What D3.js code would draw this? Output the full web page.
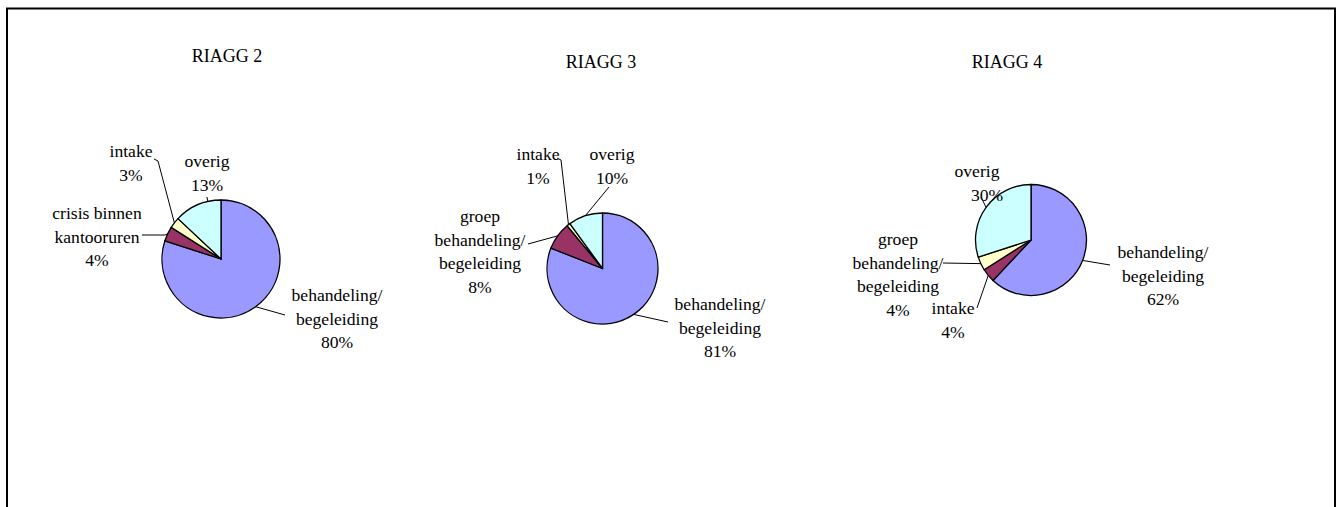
<!DOCTYPE html>
<html>
<head>
<meta charset="utf-8">
<script src="https://cdn.jsdelivr.net/npm/d3@7"></script>
<style>
  html, body { margin: 0; padding: 0; background: #fff; }
  svg { display: block; }
</style>
</head>
<body>
<svg id="chart" width="1340" height="507"></svg>
<script>
// Verdeling van de tijdsbesteding per RIAGG (percentages)
const titles = ["RIAGG 2", "RIAGG 3", "RIAGG 4"];

const riagg2Labels = [["behandeling/", "begeleiding"], ["crisis binnen", "kantooruren"], ["intake"], ["overig"]];
const riagg2Values = [80, 4, 3, 13];

const riagg3Labels = [["behandeling/", "begeleiding"], ["groep", "behandeling/", "begeleiding"], ["intake"], ["overig"]];
const riagg3Values = [81, 8, 1, 10];

const riagg4Labels = [["behandeling/", "begeleiding"], ["intake"], ["groep", "behandeling/", "begeleiding"], ["overig"]];
const riagg4Values = [62, 4, 4, 30];

const sliceColors = ["#9999FF", "#993366", "#FFFFCC", "#CCFFFF"];

// Layout of each pie: centre, radius, title position and label placement
// (label offsets relative to the centre; leader = bend points towards the label)
const layouts = [
  {
    cx: 221, cy: 259, r: 59, titleX: 227, titleY: 62,
    labels: [
      { dx: 116, dy: 36, leader: [[285, 315]] },
      { dx: -124, dy: -46, leader: [[142, 235], [165, 235]] },
      { dx: -90, dy: -108, leader: [[154, 159], [158, 161]] },
      { dx: -14, dy: -98, leader: [[207, 197]], edgeAngle: 347 }
    ]
  },
  {
    cx: 602.5, cy: 268.5, r: 55.5, titleX: 601, titleY: 68,
    labels: [
      { dx: 117.5, dy: 35.5, leader: [[668, 322]] },
      { dx: -122.5, dy: -52.5, leader: [[528, 244]] },
      { dx: -64.5, dy: -114.5, leader: [[557, 158], [561, 160]] },
      { dx: 9.5, dy: -114.5, leader: [[609, 187]] }
    ]
  },
  {
    cx: 1031, cy: 240, r: 55.5, titleX: 1007, titleY: 68,
    labels: [
      { dx: 132, dy: 12, leader: [[1110, 265]] },
      { dx: -78, dy: 68, leader: [[977, 308]] },
      { dx: -133, dy: -1, leader: [[943, 263]] },
      { dx: -54, dy: -69, leader: [[981, 197]], lineShift: [0, 10] }
    ]
  }
];

const datasets = [
  { labels: riagg2Labels, values: riagg2Values },
  { labels: riagg3Labels, values: riagg3Values },
  { labels: riagg4Labels, values: riagg4Values }
];

const serif = "'Liberation Serif', 'Times New Roman', serif";
const svg = d3.select("#chart");
const fontSize = 17.6;
const lineStep = 23.6;

// Outer frame of the chart area
svg.append("rect")
  .attr("x", 7).attr("y", 8.5)
  .attr("width", 1328).attr("height", 520)
  .attr("fill", "none").attr("stroke", "#000").attr("stroke-width", 2);

const pie = d3.pie().sort(null).value(d => d);

datasets.forEach((ds, i) => {
  const L = layouts[i];
  const g = svg.append("g");

  g.append("text")
    .attr("x", L.titleX).attr("y", L.titleY)
    .attr("text-anchor", "middle")
    .attr("font-family", serif)
    .attr("font-size", 18)
    .attr("fill", "#000")
    .text(titles[i]);

  const arcs = pie(ds.values);
  const arc = d3.arc().innerRadius(0).outerRadius(L.r);

  g.append("g")
    .attr("transform", `translate(${L.cx},${L.cy})`)
    .selectAll("path")
    .data(arcs)
    .join("path")
    .attr("d", arc)
    .attr("fill", (d, k) => sliceColors[k])
    .attr("stroke", "#000")
    .attr("stroke-width", 1.3)
    .attr("stroke-linejoin", "round");

  arcs.forEach((a, k) => {
    const lab = L.labels[k];
    const ang = lab.edgeAngle !== undefined ? lab.edgeAngle * Math.PI / 180 : (a.startAngle + a.endAngle) / 2;
    const edge = [L.cx + L.r * Math.sin(ang), L.cy - L.r * Math.cos(ang)];
    const pts = lab.leader.concat([edge]);
    g.append("path")
      .attr("d", d3.line()(pts))
      .attr("fill", "none")
      .attr("stroke", "#000")
      .attr("stroke-width", 1);

    const lines = ds.labels[k].concat([a.data + "%"]);
    const t = g.append("text")
      .attr("text-anchor", "middle")
      .attr("font-family", serif)
      .attr("font-size", fontSize)
      .attr("fill", "#000");
    lines.forEach((ln, j) => {
      const shift = lab.lineShift ? (lab.lineShift[j] || 0) : 0;
      t.append("tspan")
        .attr("x", L.cx + lab.dx + shift)
        .attr("y", L.cy + lab.dy + 6 + j * lineStep)
        .text(ln);
    });
  });
});
</script>
</body>
</html>
